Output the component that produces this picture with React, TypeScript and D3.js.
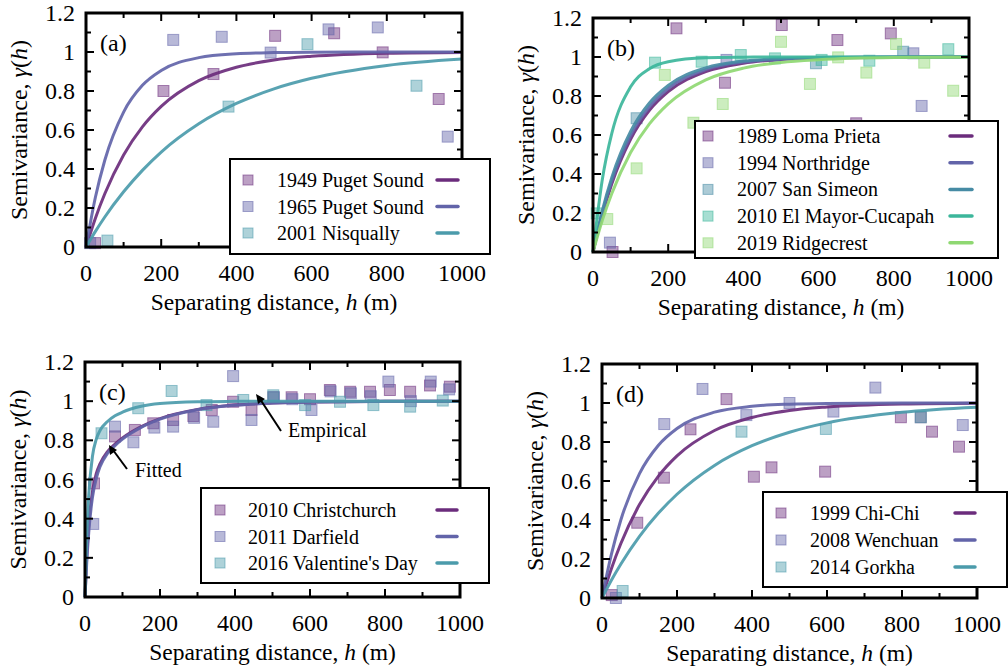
import React from 'react';
import * as d3 from 'd3';

// ---------- DATA ----------
const hGrid = [0, 25, 50, 100, 150, 200, 300, 400, 500, 600, 800, 1000];
const hGridC = [0, 5, 10, 20, 30, 40, 60, 80, 100, 150, 200, 300, 400, 500, 600, 800, 1000];

// Panel (a)
const pugetSound1949Pts = [[24, 0.02], [206, 0.80], [339, 0.887], [503, 1.083], [660, 1.096], [789, 0.998], [938, 0.759]];
const pugetSound1965Pts = [[11, 0.02], [232, 1.062], [361, 1.078], [491, 0.997], [645, 1.116], [776, 1.126], [962, 0.566]];
const nisqually2001Pts = [[57, 0.033], [379, 0.72], [589, 1.04], [879, 0.827]];
const pugetSound1949Fit = [0, 0.148, 0.273, 0.472, 0.616, 0.721, 0.853, 0.922, 0.959, 0.978, 0.994, 0.998];
const pugetSound1965Fit = [0, 0.255, 0.445, 0.692, 0.829, 0.905, 0.971, 0.991, 0.997, 0.999, 1.0, 1.0];
const nisqually2001Fit = [0, 0.080, 0.154, 0.283, 0.393, 0.487, 0.632, 0.736, 0.811, 0.865, 0.931, 0.964];

// Panel (b)
const lomaPrietaPts = [[52, 0.0], [222, 1.147], [351, 0.868], [502, 1.164], [650, 1.087], [700, 0.66], [792, 1.121]];
const northridgePts = [[45, 0.048], [355, 0.985], [852, 1.019], [874, 0.749]];
const sanSimeonPts = [[116, 0.686], [593, 0.968], [825, 1.027]];
const elMayorPts = [[10, 0.198], [165, 0.971], [289, 0.976], [393, 1.01], [484, 0.993], [608, 0.985], [735, 0.981], [945, 1.04]];
const ridgecrestPts = [[38, 0.169], [116, 0.429], [191, 0.908], [267, 0.663], [345, 0.759], [500, 1.078], [577, 0.862], [652, 0.998], [727, 0.92], [806, 1.067], [881, 0.971], [958, 0.827]];
const lomaPrietaFit = [0, 0.194, 0.350, 0.578, 0.726, 0.822, 0.925, 0.968, 0.987, 0.994, 0.999, 1.0];
const northridgeFit = [0, 0.203, 0.365, 0.597, 0.744, 0.838, 0.935, 0.974, 0.989, 0.996, 0.999, 1.0];
const sanSimeonFit = [0, 0.214, 0.382, 0.618, 0.764, 0.854, 0.944, 0.979, 0.992, 0.997, 1.0, 1.0];
const elMayorFit = [0, 0.374, 0.608, 0.847, 0.940, 0.976, 0.996, 0.999, 1.0, 1.0, 1.0, 1.0];
const ridgecrestFit = [0, 0.164, 0.300, 0.510, 0.657, 0.760, 0.883, 0.943, 0.972, 0.986, 0.997, 0.999];

// Panel (c)
const christchurchPts = [[24, 0.58], [80, 0.82], [133, 0.853], [182, 0.887], [235, 0.904], [289, 0.924], [338, 0.955], [395, 0.997], [444, 0.955], [502, 1.02], [551, 1.02], [600, 1.01], [653, 1.057], [707, 1.048], [760, 1.048], [813, 1.057], [867, 1.048], [920, 1.08], [973, 1.074]];
const darfieldPts = [[22, 0.373], [80, 0.87], [129, 0.79], [185, 0.865], [235, 0.87], [291, 0.915], [342, 0.895], [395, 1.128], [444, 0.904], [504, 1.02], [553, 1.01], [604, 0.955], [655, 1.05], [709, 1.04], [762, 1.025], [809, 1.10], [869, 1.0], [922, 1.10], [971, 1.06]];
const valentinesPts = [[44, 0.836], [142, 0.964], [231, 1.052], [324, 0.98], [422, 1.006], [502, 1.03], [587, 0.98], [680, 0.997], [769, 0.98], [867, 0.972], [954, 1.003]];
const christchurchFit = [0, 0.22, 0.37, 0.54, 0.63, 0.68, 0.742, 0.781, 0.812, 0.870, 0.911, 0.958, 0.980, 0.991, 0.996, 0.999, 1.0];
const darfieldFit = [0, 0.19, 0.33, 0.51, 0.605, 0.665, 0.733, 0.773, 0.806, 0.866, 0.908, 0.956, 0.979, 0.990, 0.996, 0.999, 1.0];
const valentinesFit = [0, 0.33, 0.52, 0.72, 0.805, 0.85, 0.896, 0.925, 0.944, 0.974, 0.988, 0.997, 0.999, 1.0, 1.0, 1.0, 1.0];

// Panel (d)
const chiChiPts = [[26, 0.015], [94, 0.386], [165, 0.617], [236, 0.865], [332, 1.02], [405, 0.622], [452, 0.67], [595, 0.648], [797, 0.927], [850, 0.927], [880, 0.853], [952, 0.776]];
const wenchuanPts = [[37, 0.0], [166, 0.892], [268, 1.072], [385, 0.938], [500, 1.0], [617, 0.956], [729, 1.079], [962, 0.887]];
const gorkhaPts = [[55, 0.036], [372, 0.853], [597, 0.867], [850, 0.927]];
const chiChiFit = [0, 0.150, 0.278, 0.479, 0.624, 0.729, 0.859, 0.926, 0.962, 0.980, 0.995, 0.999];
const wenchuanFit = [0, 0.224, 0.399, 0.638, 0.782, 0.869, 0.953, 0.983, 0.994, 0.998, 1.0, 1.0];
const gorkhaFit = [0, 0.091, 0.173, 0.316, 0.434, 0.532, 0.680, 0.781, 0.850, 0.898, 0.952, 0.978];

const xTicks = [0, 100, 200, 300, 400, 500, 600, 700, 800, 900, 1000];
const yTicks = [0, 0.1, 0.2, 0.3, 0.4, 0.5, 0.6, 0.7, 0.8, 0.9, 1.0, 1.1, 1.2];

// ---------- STYLES ----------
const C_PURPLE = '#6b2c7c';
const C_BLUEPURPLE = '#6264a9';
const C_TEAL = '#4b9bab';
const C_STEEL = '#468ba4';
const C_GREENTEAL = '#3cb69b';
const C_GREEN = '#8fd872';

const FONT = "'Liberation Serif', 'Times New Roman', Tinos, Times, serif";

type Series = { name: string; color: string; pts: number[][]; grid: number[]; fit: number[] };
type Layout = {
  label: string;
  fx: number; fy: number; fw: number; fh: number;
  lg: { x: number; y: number; w: number; h: number; row0: number; dy: number; mx: number; tx: number; l1: number; l2: number };
  series: Series[];
  annotate?: boolean;
};

const panels: Layout[] = [
  {
    label: '(a)', fx: 86, fy: 13, fw: 376, fh: 234,
    lg: { x: 230, y: 159, w: 260, h: 95, row0: 180, dy: 26.5, mx: 248, tx: 277, l1: 437, l2: 458 },
    series: [
      { name: '1949 Puget Sound', color: C_PURPLE, pts: pugetSound1949Pts, grid: hGrid, fit: pugetSound1949Fit },
      { name: '1965 Puget Sound', color: C_BLUEPURPLE, pts: pugetSound1965Pts, grid: hGrid, fit: pugetSound1965Fit },
      { name: '2001 Nisqually', color: C_TEAL, pts: nisqually2001Pts, grid: hGrid, fit: nisqually2001Fit },
    ],
  },
  {
    label: '(b)', fx: 593, fy: 18, fw: 376, fh: 234,
    lg: { x: 695, y: 121, w: 303, h: 137, row0: 136, dy: 26.7, mx: 708, tx: 737, l1: 950, l2: 972 },
    series: [
      { name: '1989 Loma Prieta', color: C_PURPLE, pts: lomaPrietaPts, grid: hGrid, fit: lomaPrietaFit },
      { name: '1994 Northridge', color: C_BLUEPURPLE, pts: northridgePts, grid: hGrid, fit: northridgeFit },
      { name: '2007 San Simeon', color: C_STEEL, pts: sanSimeonPts, grid: hGrid, fit: sanSimeonFit },
      { name: '2010 El Mayor-Cucapah', color: C_GREENTEAL, pts: elMayorPts, grid: hGrid, fit: elMayorFit },
      { name: '2019 Ridgecrest', color: C_GREEN, pts: ridgecrestPts, grid: hGrid, fit: ridgecrestFit },
    ],
  },
  {
    label: '(c)', fx: 85, fy: 362, fw: 375, fh: 235, annotate: true,
    lg: { x: 201, y: 488, w: 288, h: 95, row0: 510, dy: 26.5, mx: 220, tx: 248, l1: 437, l2: 457 },
    series: [
      { name: '2010 Christchurch', color: C_PURPLE, pts: christchurchPts, grid: hGridC, fit: christchurchFit },
      { name: '2011 Darfield', color: C_BLUEPURPLE, pts: darfieldPts, grid: hGridC, fit: darfieldFit },
      { name: "2016 Valentine's Day", color: C_TEAL, pts: valentinesPts, grid: hGridC, fit: valentinesFit },
    ],
  },
  {
    label: '(d)', fx: 602, fy: 364, fw: 375, fh: 234,
    lg: { x: 763, y: 492, w: 244, h: 95, row0: 513, dy: 27, mx: 781, tx: 810, l1: 955, l2: 975 },
    series: [
      { name: '1999 Chi-Chi', color: C_PURPLE, pts: chiChiPts, grid: hGrid, fit: chiChiFit },
      { name: '2008 Wenchuan', color: C_BLUEPURPLE, pts: wenchuanPts, grid: hGrid, fit: wenchuanFit },
      { name: '2014 Gorkha', color: C_TEAL, pts: gorkhaPts, grid: hGrid, fit: gorkhaFit },
    ],
  },
];

const MS = 11; // marker size

function Panel({ p }: { p: Layout }) {
  const x = d3.scaleLinear().domain([0, 1000]).range([p.fx, p.fx + p.fw]);
  const y = d3.scaleLinear().domain([0, 1.2]).range([p.fy + p.fh, p.fy]);
  const line = d3.line<number[]>().x(d => x(d[0])).y(d => y(d[1])).curve(d3.curveMonotoneX);
  const bottom = p.fy + p.fh;
  const right = p.fx + p.fw;
  const fmtY = (v: number) => (Math.round(v * 10) / 10).toString();
  return (
    <g>
      {p.series.map((s, si) => (
        <g key={'m' + si}>
          {s.pts.map((d, i) => (
            <rect key={i} x={x(d[0]) - MS / 2} y={y(d[1]) - MS / 2} width={MS} height={MS}
              fill={s.color} fillOpacity={0.45} stroke={s.color} strokeOpacity={0.55} strokeWidth={1} />
          ))}
        </g>
      ))}
      {p.series.map((s, si) => (
        <path key={'c' + si} d={line(s.grid.map((h, i) => [h, s.fit[i]])) || ''} fill="none"
          stroke={s.color} strokeWidth={3} strokeOpacity={0.92} />
      ))}
      {xTicks.map((t, i) => {
        const L = t % 200 === 0 ? 8 : 5;
        return (
          <g key={'xt' + i}>
            <line x1={x(t)} x2={x(t)} y1={bottom} y2={bottom - L} stroke="#000" strokeWidth={2} />
            <line x1={x(t)} x2={x(t)} y1={p.fy} y2={p.fy + L} stroke="#000" strokeWidth={2} />
          </g>
        );
      })}
      {yTicks.map((t, i) => {
        const L = i % 2 === 0 ? 8 : 5;
        return (
          <g key={'yt' + i}>
            <line x1={p.fx} x2={p.fx + L} y1={y(t)} y2={y(t)} stroke="#000" strokeWidth={2} />
            <line x1={right} x2={right - L} y1={y(t)} y2={y(t)} stroke="#000" strokeWidth={2} />
          </g>
        );
      })}
      <rect x={p.fx} y={p.fy} width={p.fw} height={p.fh} fill="none" stroke="#000" strokeWidth={3} />
      {xTicks.filter(t => t % 200 === 0).map((t, i) => (
        <text key={'xl' + i} x={x(t)} y={bottom + 34} textAnchor="middle" style={{ fontSize: 24 }}>{t}</text>
      ))}
      {yTicks.filter((_, i) => i % 2 === 0).map((t, i) => (
        <text key={'yl' + i} x={p.fx - 11} y={y(t) + 8} textAnchor="end" style={{ fontSize: 24 }}>{fmtY(t)}</text>
      ))}
      <text x={(p.fx + right) / 2} y={bottom + 63} textAnchor="middle" style={{ fontSize: 23.5 }}>
        Separating distance, <tspan style={{ fontStyle: 'italic' }}>h</tspan> (m)
      </text>
      <text transform={`translate(${p.fx - 59},${p.fy + p.fh / 2}) rotate(-90)`} textAnchor="middle" style={{ fontSize: 24 }}>
        Semivariance, <tspan style={{ fontStyle: 'italic' }}>γ</tspan>(<tspan style={{ fontStyle: 'italic' }}>h</tspan>)
      </text>
      <text x={p.fx + 14} y={p.fy + 38} style={{ fontSize: 24 }}>{p.label}</text>
      {p.annotate && (
        <g>
          <line x1={281} y1={431} x2={260} y2={399} stroke="#000" strokeWidth={2} />
          <path d="M256,394 L258,404 L265,399 Z" fill="#000" />
          <text x={288} y={437} style={{ fontSize: 20 }}>Empirical</text>
          <line x1={127} y1={469} x2={113} y2={450} stroke="#000" strokeWidth={2} />
          <path d="M109,445 L110,455 L117,450 Z" fill="#000" />
          <text x={135} y={477} style={{ fontSize: 20 }}>Fitted</text>
        </g>
      )}
      <rect x={p.lg.x} y={p.lg.y} width={p.lg.w} height={p.lg.h} fill="#fff" stroke="#000" strokeWidth={2} />
      {p.series.map((s, si) => {
        const ry = p.lg.row0 + si * p.lg.dy;
        return (
          <g key={'lg' + si}>
            <rect x={p.lg.mx - 5} y={ry - 5} width={10} height={10} fill={s.color} fillOpacity={0.45}
              stroke={s.color} strokeOpacity={0.55} strokeWidth={1} />
            <text x={p.lg.tx} y={ry + 7} style={{ fontSize: 20 }}>{s.name}</text>
            <line x1={p.lg.l1} x2={p.lg.l2} y1={ry} y2={ry} stroke={s.color} strokeWidth={3.5} strokeLinecap="round" />
          </g>
        );
      })}
    </g>
  );
}

export default function App() {
  return (
    <svg width={1008} height={671} style={{ position: 'absolute', left: 0, top: 0, background: '#fff', fontFamily: FONT }}>
      <rect x={0} y={0} width={1008} height={671} fill="#fff" />
      {panels.map((p, i) => <Panel key={i} p={p} />)}
    </svg>
  );
}
